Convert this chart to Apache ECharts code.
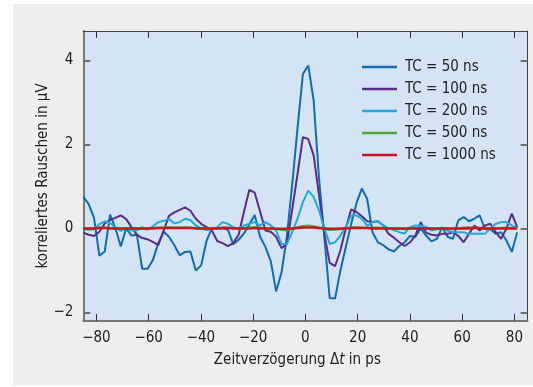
<!DOCTYPE html>
<html>
<head>
<meta charset="utf-8">
<script src="https://cdn.jsdelivr.net/npm/echarts@6/dist/echarts.min.js"></script>
<style>
  html, body { margin: 0; padding: 0; background: #fff; }
  #panel { position: absolute; left: 13px; top: 4px; width: 520px; height: 381px; background: #efeeec; }
  #chart { position: absolute; left: 0; top: 0; width: 533px; height: 387px; }
</style>
</head>
<body>
<div id="panel"></div>
<div id="chart"></div>
<script>
const FONT = "'Liberation Sans Narrow', 'DejaVu Sans Condensed', Roboto, sans-serif"

// time delay in ps (sample grid)
const times = [
  -85.00, -82.95, -80.90, -78.85, -76.80, -74.75, -72.70, -70.65, -68.60, -66.55,
  -64.50, -62.45, -60.40, -58.35, -56.30, -54.25, -52.20, -50.15, -48.10, -46.05,
  -44.00, -41.95, -39.90, -37.85, -35.80, -33.75, -31.70, -29.65, -27.60, -25.55,
  -23.50, -21.45, -19.40, -17.35, -15.30, -13.25, -11.20, -9.15, -7.10, -5.05,
  -3.00, -0.95, 1.10, 3.15, 5.20, 7.25, 9.30, 11.35, 13.40, 15.45,
  17.50, 19.55, 21.60, 23.65, 25.70, 27.75, 29.80, 31.85, 33.90, 35.95,
  38.00, 40.05, 42.10, 44.15, 46.20, 48.25, 50.30, 52.35, 54.40, 56.45,
  58.50, 60.55, 62.60, 64.65, 66.70, 68.75, 70.80, 72.85, 74.90, 76.95,
  79.00, 81.05
]

// correlated noise in µV
const tc50 = [
  0.75, 0.58, 0.25, -0.65, -0.55, 0.33, 0.0, -0.43, 0.0, -0.17,
  -0.15, -0.96, -0.96, -0.75, -0.35, -0.08, -0.2, -0.4, -0.64, -0.56,
  -0.55, -1.0, -0.88, -0.3, 0.0, 0.0, 0.0, -0.03, -0.38, -0.27,
  -0.12, 0.1, 0.32, -0.2, -0.44, -0.78, -1.5, -1.05, -0.2, 1.05,
  2.4, 3.68, 3.88, 3.05, 1.2, -0.2, -1.66, -1.67, -1.0, -0.45,
  0.1, 0.6, 0.95, 0.7, -0.1, -0.33, -0.4, -0.5, -0.55, -0.42,
  -0.33, -0.18, -0.2, 0.0, -0.17, -0.31, -0.25, 0.03, -0.2, -0.25,
  0.19, 0.27, 0.17, 0.23, 0.31, -0.02, -0.02, -0.13, -0.09, -0.29,
  -0.56, -0.1
]
const tc100 = [
  -0.1, -0.15, -0.18, -0.08, 0.12, 0.2, 0.25, 0.31, 0.22, 0.03,
  -0.15, -0.23, -0.26, -0.32, -0.4, -0.05, 0.3, 0.38, 0.44, 0.5,
  0.42, 0.23, 0.11, 0.03, -0.05, -0.3, -0.35, -0.42, -0.35, -0.15,
  0.4, 0.92, 0.85, 0.4, -0.05, -0.08, -0.2, -0.47, -0.37, 0.45,
  1.3, 2.17, 2.13, 1.74, 0.8, -0.13, -0.82, -0.9, -0.52, 0.0,
  0.45, 0.39, 0.29, 0.17, 0.15, 0.17, 0.07, -0.13, -0.22, -0.33,
  -0.42, -0.33, -0.17, 0.15, -0.1, -0.15, -0.17, -0.13, -0.13, -0.09,
  -0.18, -0.33, -0.13, 0.07, -0.05, 0.07, 0.11, -0.09, -0.25, 0.0,
  0.35, 0.03
]
const tc200 = [
  -0.02, -0.03, -0.02, 0.1, 0.17, 0.13, 0.03, -0.06, 0.0, -0.05,
  -0.05, 0.03, -0.03, 0.05, 0.15, 0.18, 0.22, 0.12, 0.15, 0.23,
  0.2, 0.07, 0.0, -0.04, -0.02, 0.03, 0.15, 0.11, 0.03, 0.0,
  0.07, 0.11, 0.15, 0.07, 0.15, 0.07, -0.05, -0.37, -0.37, -0.09,
  0.23, 0.63, 0.9, 0.75, 0.43, 0.0, -0.37, -0.33, -0.17, 0.03,
  0.31, 0.31, 0.23, 0.06, 0.15, 0.17, 0.07, 0.0, -0.04, -0.09,
  -0.12, 0.03, 0.07, 0.07, 0.03, -0.05, -0.02, 0.0, -0.05, -0.09,
  -0.09, -0.09, -0.13, -0.13, -0.13, -0.13, 0.0, 0.11, 0.15, 0.15,
  0.07, 0.01
]
const tc500 = [
  0.01, 0, -0.01, 0.02, 0.02, 0.01, 0, -0.01, 0, 0.01,
  0, -0.01, 0, 0.01, 0.02, 0.02, 0.03, 0.02, 0.02, 0.03,
  0.02, 0.01, 0, -0.01, 0, 0.01, 0.02, 0.02, 0.01, 0,
  0.01, 0.03, 0.03, 0.02, 0, 0, -0.01, -0.04, -0.05, -0.02,
  0.03, 0.06, 0.07, 0.05, 0.02, -0.02, -0.04, -0.03, -0.02, 0,
  0.03, 0.03, 0.02, 0.01, 0.02, 0.02, 0.01, 0, -0.01, -0.01,
  -0.02, 0, 0.01, 0.01, 0, -0.01, 0, 0, -0.01, -0.01,
  0, 0.02, 0.03, 0.02, 0.01, 0, -0.01, 0, 0.01, 0.02,
  0.01, 0
]
const tc1000 = [
  0, 0, 0, 0.01, 0.01, 0, 0, 0, 0, 0,
  0, 0, 0, 0, 0.01, 0.01, 0.01, 0.01, 0.01, 0.01,
  0.01, 0, 0, 0, 0, 0, 0.01, 0.01, 0, 0,
  0, 0, 0.01, 0, 0, 0, -0.01, -0.01, -0.01, 0,
  0.01, 0.02, 0.02, 0.02, 0.01, 0, -0.01, -0.01, 0, 0,
  0.01, 0.01, 0.01, 0.01, 0, 0, 0, 0, 0, 0,
  0, 0, 0, 0, 0, 0, 0, 0, 0, 0,
  0, 0, 0, 0.01, 0.01, 0, 0, 0, 0, 0,
  0, 0
]

const seriesNames = ['TC = 50 ns', 'TC = 100 ns', 'TC = 200 ns', 'TC = 500 ns', 'TC = 1000 ns']
const seriesColors = ['#0b6db3', '#5a2b8c', '#1ea9e1', '#4aa83c', '#c8161d']
const xTicks = [-80, -60, -40, -20, 0, 20, 40, 60, 80]
const yTicks = [-2, 0, 2, 4]

const minus = v => String(v).replace('-', '\u2212')
const chart = echarts.init(document.getElementById('chart'), null, { renderer: 'canvas' })

const xBase = {
  type: 'value', min: -85, max: 85,
  splitLine: { show: false },
  axisTick: { inside: true, length: 7, customValues: xTicks, lineStyle: { color: '#333', width: 1 } }
}
const yBase = {
  type: 'value', min: -2.2, max: 4.7,
  splitLine: { show: false },
  axisTick: { inside: true, length: 7, customValues: yTicks, lineStyle: { color: '#707070', width: 2 } }
}

const allValues = [tc50, tc100, tc200, tc500, tc1000]

chart.setOption({
  animation: false,
  backgroundColor: 'transparent',
  textStyle: { fontFamily: FONT },
  grid: {
    left: 83.3, right: 5.5, top: 31, bottom: 66.2,
    show: true, backgroundColor: '#d5e4f5', borderWidth: 0
  },
  legend: {
    left: 357, top: 51, orient: 'vertical',
    icon: 'rect', itemWidth: 35, itemHeight: 2.5, itemGap: 0,
    textStyle: { fontFamily: FONT, fontSize: 15, color: '#222', lineHeight: 22, padding: [0, 0, 0, 3] },
    data: seriesNames
  },
  xAxis: [
    Object.assign({}, xBase, {
      position: 'bottom',
      axisLine: { onZero: false, lineStyle: { color: '#777', width: 2 } },
      axisLabel: { customValues: xTicks, formatter: minus, fontSize: 15, color: '#222', margin: 10, fontFamily: FONT },
      name: '{a|Zeitverzögerung Δ}{b|t}{a| in ps}',
      nameLocation: 'middle', nameGap: 32, nameMoveOverlap: false,
      nameTextStyle: {
        padding: [0, 16, 0, 0],
        rich: {
          a: { fontSize: 15, color: '#222', fontFamily: FONT },
          b: { fontSize: 15, color: '#222', fontFamily: FONT, fontStyle: 'italic' }
        }
      }
    }),
    Object.assign({}, xBase, {
      position: 'top',
      axisLine: { onZero: false, lineStyle: { color: '#444', width: 1 } },
      axisLabel: { show: false }
    })
  ],
  yAxis: [
    Object.assign({}, yBase, {
      position: 'left',
      axisLine: { onZero: false, lineStyle: { color: '#777', width: 2 } },
      axisLabel: { customValues: yTicks, formatter: minus, fontSize: 15, color: '#222', margin: 10, fontFamily: FONT },
      name: 'korreliertes Rauschen in μV',
      nameLocation: 'middle', nameGap: 33, nameMoveOverlap: false,
      nameTextStyle: { fontSize: 15, color: '#222', fontFamily: FONT }
    }),
    Object.assign({}, yBase, {
      position: 'right',
      axisLine: { onZero: false, lineStyle: { color: '#444', width: 1 } },
      axisLabel: { show: false }
    })
  ],
  series: seriesNames.map((name, i) => ({
    name,
    type: 'line',
    xAxisIndex: 0,
    yAxisIndex: 0,
    symbol: 'none',
    color: seriesColors[i],
    lineStyle: { width: i === 4 ? 2.5 : 2, color: seriesColors[i] },
    data: times.map((t, k) => [t, allValues[i][k]])
  }))
})
</script>
</body>
</html>
